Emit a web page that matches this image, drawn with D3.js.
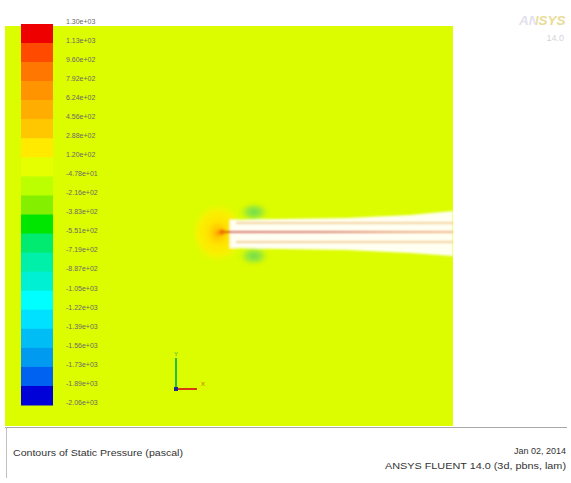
<!DOCTYPE html>
<html>
<head>
<meta charset="utf-8">
<script src="https://cdn.jsdelivr.net/npm/d3@7"></script>
<style>
  html, body { margin: 0; padding: 0; background: #fff; }
  svg { display: block; font-family: "Liberation Sans", Arial, sans-serif; }
</style>
</head>
<body>
<svg id="chart" width="571" height="483"></svg>
<script>
// Contour levels of static pressure (Pa), top to bottom of the colour bar
const levelLabels = ["1.30e+03","1.13e+03","9.60e+02","7.92e+02","6.24e+02","4.56e+02","2.88e+02","1.20e+02",
  "-4.78e+01","-2.16e+02","-3.83e+02","-5.51e+02","-7.19e+02","-8.87e+02","-1.05e+03","-1.22e+03",
  "-1.39e+03","-1.56e+03","-1.73e+03","-1.89e+03","-2.06e+03"];

// Band fill between consecutive levels
const bandColors = ["#ee0000","#ff4a00","#ff7600","#ff9300","#ffad00","#ffc700","#ffea00","#e6ff00",
  "#bcff00","#84f000","#00e600","#00eb70","#00f0aa","#00f0d4","#00ffff","#00e0ff",
  "#00bef5","#009af0","#0062f0","#0000d8"];

// Field value everywhere away from the jet
const ambientColor = "#dcfc00";

// Jet geometry, in metres, nozzle exit at the origin
const plumeTop    = [[0.10, 0.12], [0.60, 0.13], [1.27, 0.14], [1.90, 0.17], [2.33, 0.21]];
const plumeBottom = [[0.10,-0.16], [0.60,-0.17], [1.27,-0.18], [1.90,-0.21], [2.33,-0.24]];
const streaks = [
  { name: "core",  y: 0.00, x0: 0.00, x1: 2.33 },
  { name: "upper", y: 0.09, x0: 0.16, x1: 2.33 },
  { name: "lower", y: -0.10, x0: 0.16, x1: 2.33 }
];
const lobes = [
  { x: 0.34, y: 0.20, rx: 0.17, ry: 0.11 },
  { x: 0.34, y: -0.24, rx: 0.17, ry: 0.11 }
];

const svg = d3.select("#chart");
const defs = svg.append("defs");

// Domain of the contour plot
const x = d3.scaleLinear().domain([-2.15, 2.33]).range([5, 453]);
const y = d3.scaleLinear().domain([2.06, -1.94]).range([26, 426]);

svg.append("rect").attr("x", 0).attr("y", 0).attr("width", 571).attr("height", 483).attr("fill", "#fff");
svg.append("rect")
  .attr("x", x(-2.15)).attr("y", y(2.06))
  .attr("width", x(2.33) - x(-2.15)).attr("height", y(-1.94) - y(2.06))
  .attr("fill", ambientColor);

// Gradients for the stagnation halo and the low-pressure lobes
const halo = defs.append("radialGradient").attr("id", "halo");
[[0, "#ff9800", 1], [0.15, "#ffc800", 1], [0.4, "#ffe400", 1], [0.72, "#fbf000", 0.9], [0.88, "#eef800", 0.55], [1, ambientColor, 0]]
  .forEach(([o, c, a]) => halo.append("stop").attr("offset", o).attr("stop-color", c).attr("stop-opacity", a));
const lobeGrad = defs.append("radialGradient").attr("id", "lobe");
[[0, "#6fdc50", 1], [0.45, "#98e838", 0.9], [1, ambientColor, 0]]
  .forEach(([o, c, a]) => lobeGrad.append("stop").attr("offset", o).attr("stop-color", c).attr("stop-opacity", a));
const coreGrad = defs.append("linearGradient").attr("id", "coreLine")
  .attr("gradientUnits", "userSpaceOnUse").attr("x1", x(0)).attr("x2", x(2.33)).attr("y1", 0).attr("y2", 0);
[[0, "#d42000"], [0.45, "#d85020"], [0.7, "#e89050"], [1, "#f0b070"]]
  .forEach(([o, c]) => coreGrad.append("stop").attr("offset", o).attr("stop-color", c));
const logoGrad = defs.append("linearGradient").attr("id", "logoFill")
  .attr("gradientUnits", "userSpaceOnUse").attr("x1", 519).attr("x2", 566).attr("y1", 0).attr("y2", 0);
[[0, "#e2e0ec"], [0.37, "#e2e0ec"], [0.37, "#e8dc98"], [1, "#e8dc98"]]
  .forEach(([o, c]) => logoGrad.append("stop").attr("offset", o).attr("stop-color", c));
const soft = defs.append("filter").attr("id", "soft").attr("x", "-20%").attr("y", "-50%").attr("width", "140%").attr("height", "200%");
soft.append("feGaussianBlur").attr("stdDeviation", 0.9);

const field = svg.append("g").attr("filter", "url(#soft)");
const ppm = x(1) - x(0);

field.append("ellipse")
  .attr("cx", x(-0.02)).attr("cy", y(-0.01))
  .attr("rx", 0.27 * ppm).attr("ry", 0.30 * ppm)
  .attr("fill", "url(#halo)");

field.selectAll("ellipse.lobe").data(lobes).join("ellipse")
  .attr("class", "lobe")
  .attr("cx", d => x(d.x)).attr("cy", d => y(d.y))
  .attr("rx", d => d.rx * ppm).attr("ry", d => d.ry * ppm)
  .attr("fill", "url(#lobe)");

// High-speed region of the jet
const outline = plumeTop.concat(plumeBottom.slice().reverse());
field.append("path")
  .attr("d", d3.line().x(d => x(d[0])).y(d => y(d[1])).curve(d3.curveLinearClosed)(outline))
  .attr("fill", "#fffff2");

field.selectAll("line.streak").data(streaks).join("line")
  .attr("class", "streak")
  .attr("x1", d => x(d.x0)).attr("x2", d => x(d.x1))
  .attr("y1", d => y(d.y)).attr("y2", d => y(d.y))
  .attr("stroke", d => d.name === "core" ? "url(#coreLine)" : "#f0bc70")
  .attr("stroke-width", d => d.name === "core" ? 2.2 : 1.5);

field.append("circle").attr("cx", x(0.02)).attr("cy", y(0)).attr("r", 3).attr("fill", "#f07800").attr("opacity", 0.85);

// Colour bar
const lv = d3.scalePoint().domain(levelLabels).range([24, 405]);
const legend = svg.append("g");
legend.selectAll("rect").data(bandColors).join("rect")
  .attr("x", 21).attr("width", 32)
  .attr("y", (d, i) => lv(levelLabels[i]))
  .attr("height", (d, i) => lv(levelLabels[i + 1]) - lv(levelLabels[i]) + 0.5)
  .attr("fill", d => d);
legend.selectAll("text").data(levelLabels).join("text")
  .attr("x", 66).attr("y", d => lv(d) - 2)
  .attr("dominant-baseline", "middle")
  .attr("font-size", 7).attr("fill", "#6a6a6a")
  .text(d => d);

// Coordinate triad
const tri = svg.append("g");
tri.append("line").attr("x1", 176).attr("x2", 176).attr("y1", 358).attr("y2", 389).attr("stroke", "#22c040").attr("stroke-width", 2);
tri.append("line").attr("x1", 176).attr("x2", 197).attr("y1", 389).attr("y2", 389).attr("stroke", "#d83a10").attr("stroke-width", 2);
tri.append("rect").attr("x", 174).attr("y", 387).attr("width", 4).attr("height", 4).attr("fill", "#1a2a90");
tri.append("text").attr("x", 176).attr("y", 356).attr("text-anchor", "middle").attr("font-size", 6).attr("fill", "#30b050").text("Y");
tri.append("text").attr("x", 201).attr("y", 386).attr("font-size", 6).attr("fill", "#c86a10").text("X");

// Logo
svg.append("text").attr("x", 519).attr("y", 25)
  .attr("font-size", 13.5).attr("font-style", "italic").attr("font-weight", "bold")
  .attr("fill", "url(#logoFill)").text("ANSYS");
svg.append("text").attr("x", 564).attr("y", 41).attr("text-anchor", "end")
  .attr("font-size", 9).attr("fill", "#d4d4d8").text("14.0");

// Title block
const foot = svg.append("g");
foot.append("line").attr("x1", 5).attr("x2", 567).attr("y1", 427.5).attr("y2", 427.5).attr("stroke", "#a8a8a8");
foot.append("line").attr("x1", 6.5).attr("x2", 6.5).attr("y1", 427).attr("y2", 478).attr("stroke", "#c0c0c0");
foot.append("text").attr("x", 13).attr("y", 456).attr("font-size", 9.5).attr("fill", "#333")
  .attr("textLength", 170).attr("lengthAdjust", "spacingAndGlyphs")
  .text("Contours of Static Pressure (pascal)");
foot.append("text").attr("x", 566).attr("y", 454).attr("text-anchor", "end").attr("font-size", 9.5).attr("fill", "#333")
  .attr("textLength", 52).attr("lengthAdjust", "spacingAndGlyphs")
  .text("Jan 02, 2014");
foot.append("text").attr("x", 566).attr("y", 469).attr("text-anchor", "end").attr("font-size", 9.5).attr("fill", "#333")
  .attr("textLength", 181).attr("lengthAdjust", "spacingAndGlyphs")
  .text("ANSYS FLUENT 14.0 (3d, pbns, lam)");
</script>
</body>
</html>
